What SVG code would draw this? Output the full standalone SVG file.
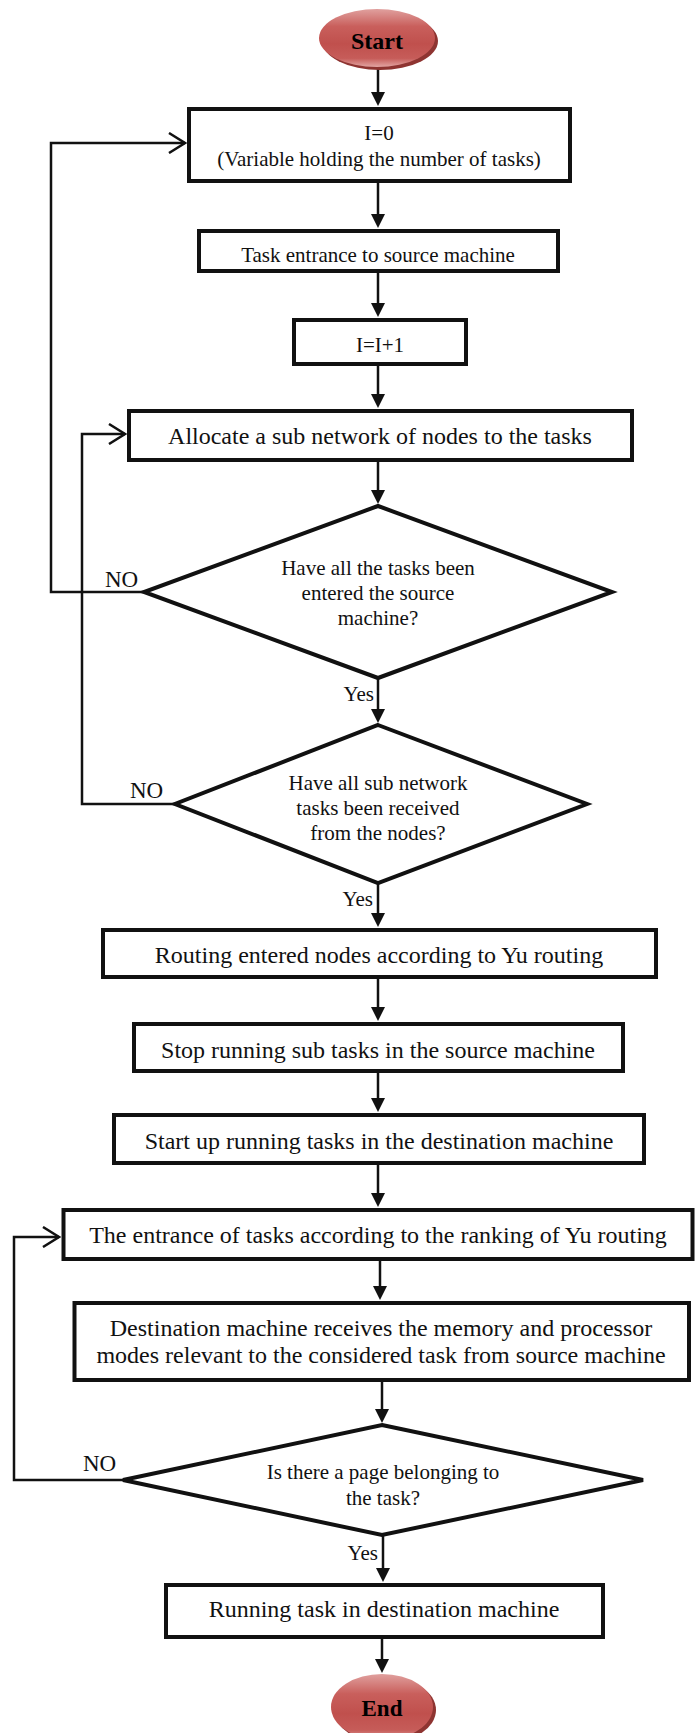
<svg xmlns="http://www.w3.org/2000/svg" width="696" height="1733" viewBox="0 0 696 1733">
<style>
.box{fill:#fff;stroke:#111;stroke-width:4}
.dia{fill:#fff;stroke:#111;stroke-width:4;stroke-linejoin:miter}
.t{font-family:"Liberation Serif","Times New Roman",serif;fill:#111;text-anchor:middle}
.s21{font-size:21px}
.s24{font-size:24px}
.lbl{font-family:"Liberation Serif","Times New Roman",serif;fill:#111;font-size:21px}
.no{font-size:23px}
.term{font-family:"Liberation Serif","Times New Roman",serif;font-weight:bold;fill:#000;text-anchor:middle}
.c{fill:none;stroke:#111;stroke-width:2.5}
</style>
<defs>
<marker id="arr" viewBox="0 0 14 14" refX="10" refY="7" markerWidth="14" markerHeight="14" markerUnits="userSpaceOnUse" orient="auto">
<path d="M0,0 L14,7 L0,14 z" fill="#111"/>
</marker>
<marker id="open" viewBox="0 0 20 22" refX="18" refY="11" markerWidth="20" markerHeight="22" markerUnits="userSpaceOnUse" orient="auto">
<path d="M2,1 L18,11 L2,21" fill="none" stroke="#111" stroke-width="2.5"/>
</marker>
<linearGradient id="red" x1="0" y1="0" x2="0" y2="1">
<stop offset="0" stop-color="#e0a09e"/>
<stop offset="0.3" stop-color="#c95f5c"/>
<stop offset="0.6" stop-color="#c0504d"/>
<stop offset="0.85" stop-color="#c65c59"/>
<stop offset="1" stop-color="#e2a5a3"/>
</linearGradient>
</defs>

<g id="connectors">
<path class="c" d="M378,68 V102" marker-end="url(#arr)"/>
<path class="c" d="M378,183 V224" marker-end="url(#arr)"/>
<path class="c" d="M378,273 V313" marker-end="url(#arr)"/>
<path class="c" d="M378,366 V404" marker-end="url(#arr)"/>
<path class="c" d="M378,462 V500" marker-end="url(#arr)"/>
<path class="c" d="M378,678 V719" marker-end="url(#arr)"/>
<path class="c" d="M378,883 V923" marker-end="url(#arr)"/>
<path class="c" d="M378,979 V1017" marker-end="url(#arr)"/>
<path class="c" d="M378,1073 V1108" marker-end="url(#arr)"/>
<path class="c" d="M378,1165 V1203" marker-end="url(#arr)"/>
<path class="c" d="M380,1261 V1296" marker-end="url(#arr)"/>
<path class="c" d="M382,1382 V1419" marker-end="url(#arr)"/>
<path class="c" d="M383,1535 V1578" marker-end="url(#arr)"/>
<path class="c" d="M382,1639 V1669" marker-end="url(#arr)"/>
<path class="c" d="M144,592 H51 V143 H185" marker-end="url(#open)"/>
<path class="c" d="M175,804 H82 V434 H125" marker-end="url(#open)"/>
<path class="c" d="M123,1480 H14 V1237 H59" marker-end="url(#open)"/>
<text class="lbl no" x="105" y="587">NO</text>
<text class="lbl no" x="130" y="798">NO</text>
<text class="lbl no" x="83" y="1471">NO</text>
<text class="lbl" x="374" y="701" text-anchor="end">Yes</text>
<text class="lbl" x="373" y="906" text-anchor="end">Yes</text>
<text class="lbl" x="378" y="1560" text-anchor="end">Yes</text>
</g>

<g id="start">
<ellipse cx="380" cy="41" rx="58" ry="29" fill="#8e3431"/>
<ellipse cx="377" cy="38" rx="58" ry="29" fill="url(#red)"/>
<text class="term" x="377" y="49" font-size="24">Start</text>
</g>

<g id="init">
<rect class="box" x="189" y="109" width="381" height="72"/>
<text class="t s21" x="379" y="140">I=0</text>
<text class="t s21" x="379" y="166">(Variable holding the number of tasks)</text>
</g>

<g id="entrance">
<rect class="box" x="199" y="231" width="359" height="40"/>
<text class="t s21" x="378" y="262">Task entrance to source machine</text>
</g>

<g id="increment">
<rect class="box" x="294" y="320" width="172" height="44"/>
<text class="t s21" x="380" y="352">I=I+1</text>
</g>

<g id="allocate">
<rect class="box" x="129" y="411" width="503" height="49"/>
<text class="t s24" x="380" y="444">Allocate a sub network of nodes to the tasks</text>
</g>

<g id="decision1">
<polygon class="dia" points="378,506 612,592 378,678 144,592"/>
<text class="t s21" x="378" y="575">Have all the tasks been</text>
<text class="t s21" x="378" y="600">entered the source</text>
<text class="t s21" x="378" y="625">machine?</text>
</g>

<g id="decision2">
<polygon class="dia" points="378,725 587,804 378,883 175,804"/>
<text class="t s21" x="378" y="790">Have all sub network</text>
<text class="t s21" x="378" y="815">tasks been received</text>
<text class="t s21" x="378" y="840">from the nodes?</text>
</g>

<g id="routing">
<rect class="box" x="103" y="930" width="553" height="47"/>
<text class="t s24" x="379" y="963">Routing entered nodes according to Yu routing</text>
</g>

<g id="stop">
<rect class="box" x="134" y="1024" width="489" height="47"/>
<text class="t s24" x="378" y="1058">Stop running sub tasks in the source machine</text>
</g>

<g id="startup">
<rect class="box" x="114" y="1115" width="530" height="48"/>
<text class="t s24" x="379" y="1149">Start up running tasks in the destination machine</text>
</g>

<g id="ranking">
<rect class="box" x="63.5" y="1210" width="629" height="49"/>
<text class="t s24" x="378" y="1243">The entrance of tasks according to the ranking of Yu routing</text>
</g>

<g id="receive">
<rect class="box" x="74.5" y="1303" width="614.5" height="77"/>
<text class="t s24" x="381" y="1336">Destination machine receives the memory and processor</text>
<text class="t s24" x="381" y="1363">modes relevant to the considered task from source machine</text>
</g>

<g id="decision3">
<polygon class="dia" points="382,1425 643,1480 382,1535 123,1480"/>
<text class="t s21" x="383" y="1479">Is there a page belonging to</text>
<text class="t s21" x="383" y="1505">the task?</text>
</g>

<g id="running">
<rect class="box" x="166" y="1585" width="437" height="52"/>
<text class="t s24" x="384" y="1617">Running task in destination machine</text>
</g>

<g id="end">
<ellipse cx="385" cy="1710" rx="51" ry="33" fill="#8e3431"/>
<ellipse cx="382" cy="1707" rx="51" ry="33" fill="url(#red)"/>
<text class="term" x="382" y="1716" font-size="23">End</text>
</g>
</svg>
